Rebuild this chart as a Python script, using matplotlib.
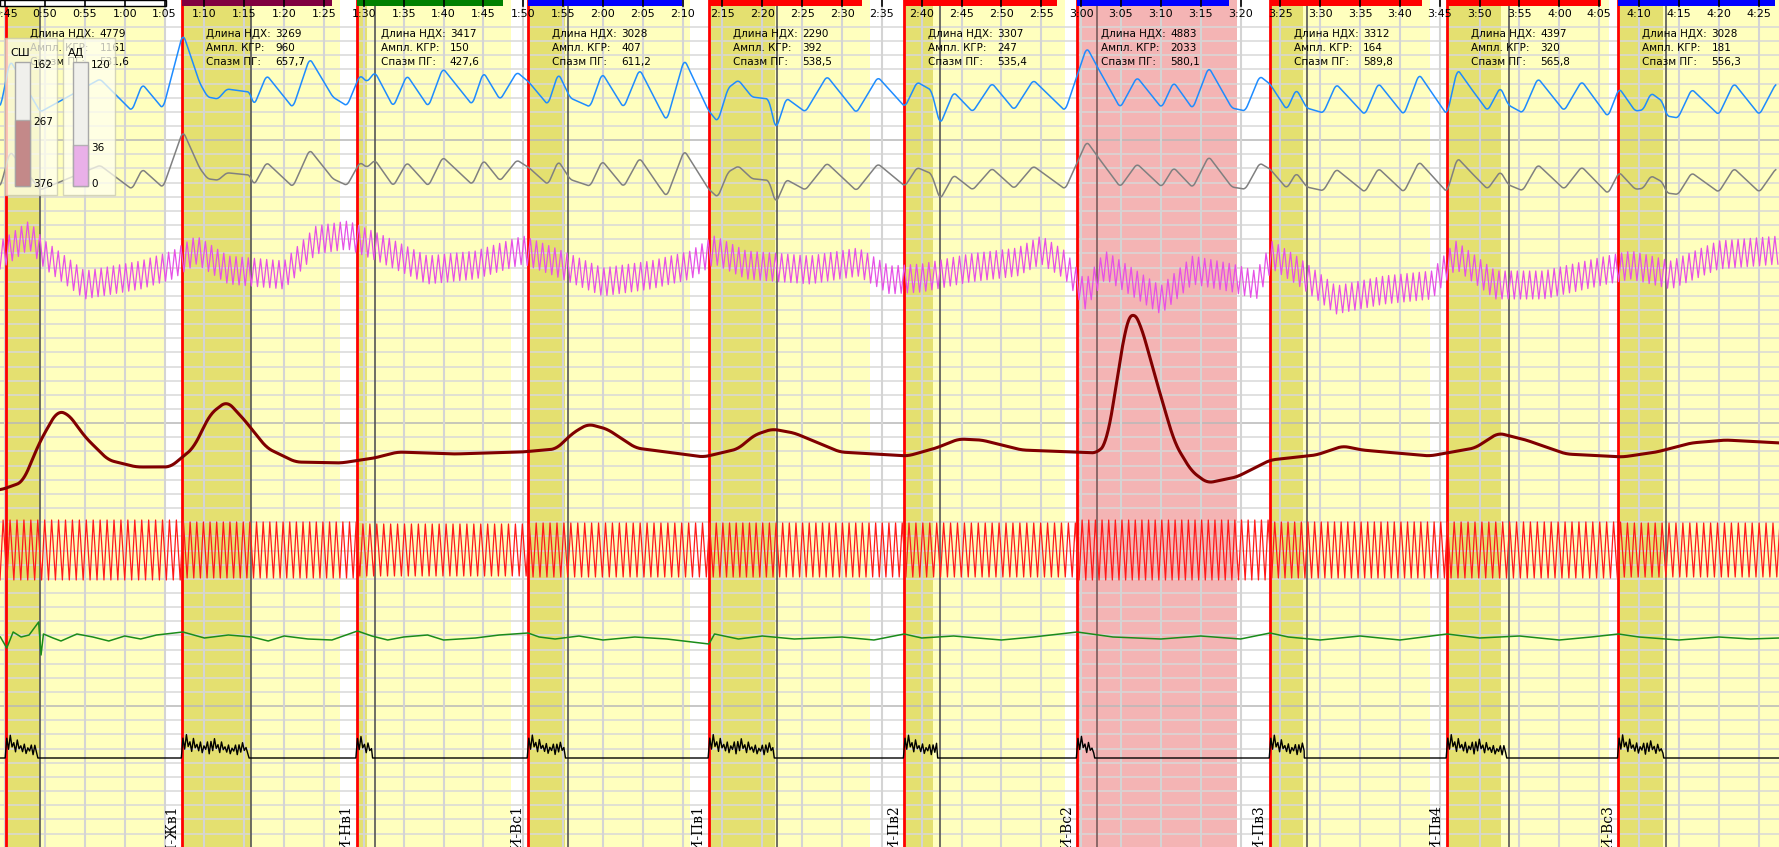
import numpy as np
import matplotlib.pyplot as plt
from matplotlib.patches import Rectangle

W, H = 1779, 847
PXS = 7.97            # pixels per second
T0 = 44.35
T1 = T0 + W / PXS

def px2t(px):
    return T0 + px / PXS

def smooth(t, y, win=0.6, step=0.05):
    tt = np.arange(t[0], t[-1], step)
    yy = np.interp(tt, t, y)
    n = max(1, int(win / step))
    pad = np.pad(yy, n, mode='edge')
    ker = np.ones(n) / n
    ys = np.convolve(pad, ker, mode='same')[n:-n]
    return tt, ys

# ---------------- data ----------------
# section boundaries (seconds): red line, dark band end, light band end
sec_start = [45.1, 67.2, 89.1, 110.6, 133.3, 157.8, 179.5, 203.7, 225.9, 247.4]
sec_dark_end = [49.4, 75.8, 90.4, 115.2, 141.6, 161.4, None, 207.8, 232.7, 253.0]
sec_marker = [49.4, 75.9, 91.4, 115.6, 141.8, 162.3, 182.0, 208.3, 233.7, 253.4]
sec_light_end = [65.1, 87.0, 108.5, 130.9, 153.5, 178.0, 199.6, 223.8, 246.2, 268.0]
sec_pink = [False, False, False, False, False, False, True, False, False, False]
sec_bar_color = [None, '#800040', '#008000', '#0000ff', '#ff0000', '#ff0000',
                 '#0000ff', '#ff0000', '#ff0000', '#0000ff']
sec_labels = [None, 'ФИ-Жв1', 'ФИ-Нв1', 'ФИ-Вс1', 'ФИ-Пв1', 'ФИ-Пв2',
              'ФИ-Вс2', 'ФИ-Пв3', 'ФИ-Пв4', 'ФИ-Вс3']
ndh = ['4779', '3269', '3417', '3028', '2290', '3307', '4883', '3312', '4397', '3028']
kgr = ['1161', '960', '150', '407', '392', '247', '2033', '164', '320', '181']
spazm = ['531,6', '657,7', '427,6', '611,2', '538,5', '535,4', '580,1', '589,8', '565,8', '556,3']

# blue (pulse wave) extrema, time s / level
blue_t = [44.4, 45.6, 49.4, 56.9, 60.9, 62.2, 64.8, 67.3, 69.4, 70.4, 71.7, 72.8, 75.7, 76.2,
          77.8, 81.1, 83.2, 86.1, 87.9, 89.5, 90.4, 91.4, 93.7, 95.4, 98.1, 99.9, 103.6, 105.0,
          107.1, 109.2, 110.7, 113.1, 114.4, 115.9, 118.4, 119.9, 122.6, 124.6, 126.9, 128.0,
          130.2, 133.2, 134.4, 135.7, 137.0, 138.7, 140.8, 141.7, 143.0, 145.4, 148.1, 151.8,
          154.5, 157.9, 159.4, 161.2, 162.3, 164.0, 166.4, 168.8, 171.6, 174.0, 178.0, 180.7,
          181.9, 184.9, 187.0, 190.1, 191.6, 194.0, 196.0, 198.9, 200.6, 202.4, 203.7, 205.8,
          207.0, 208.3, 210.4, 212.0, 215.6, 217.3, 220.5, 222.4, 225.9, 227.2, 228.7, 231.0,
          232.6, 233.6, 235.4, 237.3, 240.6, 242.8, 246.1, 247.5, 249.5, 250.5, 251.5, 252.9,
          253.5, 254.9, 256.6, 260.0, 261.9, 265.1, 267.2]
blue_y = [108, 60, 112, 79, 111, 84, 109, 33, 83, 97, 99, 89, 92, 106,
          75, 108, 58, 97, 106, 75, 82, 72, 107, 75, 107, 68, 105, 72,
          100, 72, 82, 105, 73, 98, 107, 73, 108, 69, 105, 121,
          59, 110, 122, 88, 80, 97, 99, 130, 98, 112, 76, 113,
          77, 107, 82, 90, 125, 92, 112, 83, 110, 80, 111, 47,
          65, 108, 77, 108, 82, 109, 67, 108, 111, 76, 84, 110,
          89, 108, 113, 84, 115, 83, 115, 74, 115, 69, 86, 111,
          87, 105, 113, 78, 111, 81, 117, 88, 111, 110, 93, 101,
          116, 118, 89, 115, 83, 115, 83]

# brown (skin conductance) curve
gsr_t = [44.4, 47.2, 49.3, 51.5, 52.9, 55.0, 57.9, 61.4, 65.7, 68.6, 70.7, 72.8, 75.0, 77.8,
         81.4, 87.1, 91.3, 94.2, 101.3, 109.8, 114.1, 116.2, 118.1, 120.5, 124.1, 132.6, 136.9,
         139.0, 141.2, 144.0, 149.7, 158.2, 161.8, 164.6, 167.5, 172.5, 182.0, 183.2, 184.6,
         185.6, 186.4, 187.4, 189.6, 191.7, 193.8, 195.8, 199.5, 203.7, 209.5, 212.8, 215.2,
         223.7, 229.4, 232.3, 235.8, 240.8, 247.9, 252.2, 256.5, 260.8, 267.6]
gsr_y = [490, 482, 442, 411, 414, 437, 460, 467, 467, 448, 414, 401, 420, 448,
         462, 463, 458, 452, 454, 452, 449, 433, 424, 429, 448, 457, 449,
         435, 429, 433, 452, 456, 448, 439, 440, 450, 453, 443, 374,
         323, 310, 323, 386, 443, 471, 483, 477, 460, 455, 446, 450,
         456, 448, 433, 440, 454, 457, 452, 443, 440, 443]

# pink (respiration-like) mid line
pink_t = [44.4, 48, 50, 55, 62, 66, 69, 73, 80, 84, 88, 92, 98, 104, 110, 114, 120, 126, 131,
          134, 138, 146, 152, 156, 160, 166, 172, 175, 178, 180.5, 183, 186, 190, 194, 199,
          202, 204, 207, 212, 218, 224, 227, 232, 238, 246, 249, 254, 260, 267.6]
pink_y = [255, 235, 255, 285, 275, 265, 250, 270, 275, 240, 235, 248, 270, 265, 250, 262, 282,
          275, 265, 250, 265, 270, 262, 280, 278, 268, 262, 250, 265, 295, 265, 280, 300, 270,
          278, 285, 255, 270, 300, 290, 285, 255, 285, 285, 270, 265, 275, 255, 250]
pink_rate = 1.3      # cycles per second
pink_amp = 14

# red (heart) channel, per section rate (Hz) and amplitude
heart_rate = [1.15, 1.2, 1.15, 1.15, 1.2, 1.15, 1.2, 1.2, 1.15, 1.15]
heart_amp = [30, 28, 26, 27, 27, 27, 30, 28, 28, 27]
heart_mid = 550

# green channel
green_t = [44.4, 45.2, 46, 47, 48, 49.2, 49.5, 49.8, 51, 52, 54, 56, 58, 60, 62, 64, 67.3, 70,
           73, 76, 78, 80, 83, 86, 89.2, 91, 93, 95, 98, 100, 104, 107, 110.6, 112, 114, 117,
           120, 124, 128, 133.3, 134, 137, 140, 144, 150, 154, 157.8, 160, 164, 170, 174,
           179.5, 184, 190, 195, 200, 203.7, 206, 210, 215, 220, 225.9, 230, 235, 240, 244,
           247.4, 250, 255, 260, 264, 267.6]
green_y = [637, 648, 632, 637, 635, 622, 655, 634, 638, 641, 634, 637, 641, 636, 639, 635, 632,
           638, 635, 637, 641, 636, 639, 640, 631, 636, 640, 637, 635, 640, 638, 635, 633, 637,
           639, 636, 640, 637, 639, 644, 634, 639, 636, 639, 637, 640, 634, 638, 636, 640, 637,
           632, 637, 639, 636, 639, 633, 637, 640, 636, 640, 634, 638, 636, 640, 637, 634,
           637, 640, 637, 639, 638]
# black (EMG) bursts: relative heights read from bursts
emg_pattern = [20, 9, 24, 12, 17, 7, 21, 11, 15, 8, 18, 6, 14, 10, 19, 5]
emg_base = 758

# ---------------- figure ----------------
fig = plt.figure(figsize=(W / 100, H / 100), dpi=100)
ax = fig.add_axes([0, 0, 1, 1])
ax.set_xlim(T0, T1)
ax.set_ylim(H, 0)
ax.axis('off')

# backgrounds
for i, s in enumerate(sec_start):
    le = sec_light_end[i]
    if sec_pink[i]:
        ax.axvspan(s, le, color='#f4b4b4', zorder=0, lw=0)
    else:
        ax.axvspan(s, le, color='#ffffbe', zorder=0, lw=0)
        ax.axvspan(s, sec_dark_end[i], color='#e4e070', zorder=0.5, lw=0)
ax.axvspan(T0, 45.1, color='#ffffbe', zorder=0, lw=0)

# grid
for k, y in enumerate(np.arange(27, H, 14.15)):
    dark = k in (8, 28, 48)
    ax.axhline(y, color='#b8b8b8' if dark else '#d8d8d8', lw=1.1, zorder=1)
for t in np.arange(45, T1, 5):
    ax.axvline(t, color='#d4d4d4', lw=1.5, zorder=1)

# section markers
for i, s in enumerate(sec_start):
    ax.axvline(s, color='#ff0000', lw=2, zorder=6)
    ax.axvline(sec_marker[i], color='#555555' if i != 6 else '#7a5a5a', lw=1.2, zorder=5)

# top bar
ax.add_patch(Rectangle((T0, 0), px2t(166) - T0, 6, facecolor='white', edgecolor='black',
                       lw=1, zorder=7))
for i, s in enumerate(sec_start):
    if sec_bar_color[i]:
        ax.add_patch(Rectangle((s, 0), sec_light_end[i] - s - 1.0, 6,
                               facecolor=sec_bar_color[i], lw=0, zorder=7))
for t in np.arange(45, T1, 5):
    ax.plot([t, t], [0, 6], color='black', lw=1.2, zorder=8)
    m, sec = divmod(int(t), 60)
    ax.text(t, 14, f'{m}:{sec:02d}', ha='center', va='center', fontsize=8, zorder=8)

# section stats
for i, s in enumerate(sec_start):
    x0 = px2t(30) if i == 0 else s + 3.0
    for j, (lab, val) in enumerate(zip(['Длина НДХ:', 'Ампл. КГР:', 'Спазм ПГ:'],
                                       [ndh[i], kgr[i], spazm[i]])):
        ax.text(x0, 34 + j * 14, lab, fontsize=7.5, va='center', zorder=8)
        ax.text(x0 + 8.7, 34 + j * 14, val, fontsize=7.5, va='center', zorder=8)

# blue & gray
bt, by = smooth(np.array(blue_t), np.array(blue_y, float), win=0.7)
ax.plot(bt, by, color='#1e8cff', lw=1.1, zorder=9)
ax.plot(bt, 187 - (108 - by) * 0.75, color='#808080', lw=1.1, zorder=9)

# pink
pt, py = [], []
t = T0
k = 0
while t < T1:
    mid = np.interp(t, pink_t, pink_y)
    pt.append(t)
    py.append(mid + (pink_amp if k % 2 == 0 else -pink_amp))
    t += 0.5 / pink_rate
    k += 1
ax.plot(pt, py, color='#e650e6', lw=0.9, zorder=9)

# heart
ht, hy = [], []
t = T0
edges = sec_start + [T1 + 5]
while t < T1:
    idx = max(0, np.searchsorted(edges, t) - 1)
    per = 1.0 / heart_rate[idx]
    a = heart_amp[idx]
    ht += [t, t + per * 0.45]
    hy += [heart_mid + a, heart_mid - a]
    t += per
ax.plot(ht, hy, color='#ff1a1a', lw=0.9, zorder=9)

# green
ax.plot(green_t, green_y, color='#1a8c1a', lw=1.1, zorder=9)

# brown
gt, gy = smooth(np.array(gsr_t), np.array(gsr_y, float), win=1.5)
ax.plot(gt, gy, color='#800000', lw=2.2, zorder=10)

# emg
et, ey = [T0], [emg_base]
for i, s in enumerate(sec_start):
    end = sec_marker[i] - 0.3
    tt = s + 0.1
    k = 0
    while tt < end:
        if et[-1] < tt - 0.3:
            et.append(tt - 0.2)
            ey.append(emg_base)
        decay = 1.0 - 0.4 * (tt - s) / max(end - s, 1)
        et.append(tt)
        ey.append(emg_base - emg_pattern[k % len(emg_pattern)] * decay)
        tt += 0.22
        k += 1
    et += [end, end + 0.1]
    ey += [emg_base, emg_base]
et.append(T1)
ey.append(emg_base)
ax.plot(et, ey, color='black', lw=1.0, zorder=9)

# bottom labels
for i, s in enumerate(sec_start):
    if sec_labels[i]:
        ax.text(s - 1.3, 805, sec_labels[i], rotation=90, ha='center', va='top',
                fontsize=10, family='DejaVu Serif', zorder=8)

# gauges
for gx, name, labs, fill_top, fcol in [(5, 'СШ', ['162', '267', '376'], 120, '#b87070'),
                                        (63, 'АД', ['120', '36', '0'], 145, '#e8a0e8')]:
    ax.add_patch(Rectangle((px2t(gx), 38), 52 / PXS, 157, facecolor='#fffff0', alpha=0.75,
                           edgecolor='#c8c8b0', lw=1, zorder=11))
    ax.text(px2t(gx + 5), 53, name, fontsize=8, va='center', zorder=12)
    cx = px2t(gx + 10)
    ax.add_patch(Rectangle((cx, 62), 15 / PXS, 124, facecolor='#f0f0ec', edgecolor='#a8a8a8',
                           lw=1, zorder=12))
    ax.add_patch(Rectangle((cx, fill_top), 15 / PXS, 186 - fill_top, facecolor=fcol,
                           edgecolor='#a8a8a8', alpha=0.8, lw=1, zorder=12))
    for lab, yy in zip(labs, [65, 122 if name == 'СШ' else 148, 184]):
        ax.text(px2t(gx + 28), yy, lab, fontsize=7.5, va='center', zorder=12)

fig.savefig('out.png', dpi=100)
